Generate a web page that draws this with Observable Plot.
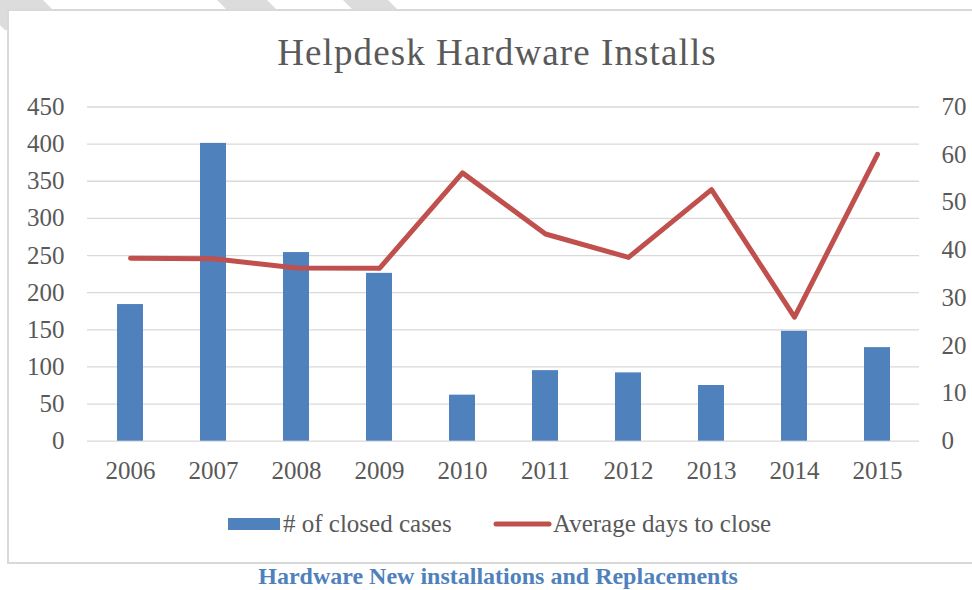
<!DOCTYPE html>
<html>
<head>
<meta charset="utf-8">
<script src="https://cdn.jsdelivr.net/npm/d3@7"></script>
<script src="https://cdn.jsdelivr.net/npm/@observablehq/plot@0.6"></script>
<style>
  html, body { margin: 0; padding: 0; background: #fff; }
  body { width: 972px; height: 590px; position: relative; overflow: hidden; font-family: "Liberation Serif", serif; }
  #deco { position: absolute; left: 0; top: 0; }
  #box { position: absolute; left: 7px; top: 9px; width: 1000px; height: 551px; border: 2px solid #d9d9d9; background: #fff; }
  #chart { position: absolute; left: 0; top: 0; }
  #overlay { position: absolute; left: 0; top: 0; pointer-events: none; }
</style>
</head>
<body>
<svg id="deco" width="972" height="40">
  <polygon points="-25,0 43,0 73,30 5,30" fill="#dcdcdc"/>
  <polygon points="217,0 267,0 297,30 247,30" fill="#dcdcdc"/>
  <polygon points="343,0 388,0 418,30 373,30" fill="#dcdcdc"/>
</svg>
<div id="box"></div>
<div id="chart"></div>
<svg id="overlay" width="972" height="590"></svg>
<script>
const years = ["2006","2007","2008","2009","2010","2011","2012","2013","2014","2015"];
const closedCases = [184, 401, 254, 226, 62, 95, 92, 75, 148, 126];
const avgDaysToClose = [38.3, 38.2, 36.3, 36.2, 56.2, 43.4, 38.5, 52.7, 26.0, 60.1];
const leftTicks = [0, 50, 100, 150, 200, 250, 300, 350, 400, 450];
const rightTicks = [0, 10, 20, 30, 40, 50, 60, 70];
const titleText = "Helpdesk Hardware Installs";
const seriesNames = ["# of closed cases", "Average days to close"];
const captionText = "Hardware New installations and Replacements";

const k = 450 / 70;
const data = years.map((y, i) => ({year: y, cases: closedCases[i], days: avgDaysToClose[i]}));

const chart = Plot.plot({
  width: 972,
  height: 500,
  marginTop: 106.5,
  marginBottom: 59.3,
  marginLeft: 87,
  marginRight: 53,
  style: {fontFamily: "Liberation Serif", fontSize: "25px", color: "#595959", background: "none", overflow: "visible"},
  x: {domain: years, paddingInner: 0.6875, paddingOuter: 0.34375, label: null},
  y: {domain: [0, 450], label: null},
  marks: [
    Plot.ruleY(leftTicks, {stroke: "#d9d9d9", strokeWidth: 1.3}),
    Plot.barY(data, {x: "year", y: "cases", fill: "#4F81BD"}),
    Plot.line(data, {x: "year", y: d => d.days * k, stroke: "#C0504D", strokeWidth: 5, strokeLinecap: "round", strokeLinejoin: "round"}),
    Plot.axisY(leftTicks, {anchor: "left", tickSize: 0, tickPadding: 23, fontSize: 25, fill: "#595959", label: null}),
    Plot.axisY(rightTicks.map(v => v * k), {anchor: "right", tickSize: 0, tickPadding: 22, fontSize: 25, fill: "#595959", tickFormat: v => String(Math.round(v / k)), label: null}),
    Plot.axisX({tickSize: 0, tickPadding: 20, fontSize: 25, fill: "#595959", label: null})
  ]
});
document.getElementById("chart").appendChild(chart);

// Title, legend, caption
const ov = d3.select("#overlay");
ov.append("text").attr("x", 497).attr("y", 65).attr("text-anchor", "middle")
  .attr("font-family", "Liberation Serif").attr("font-size", 37).attr("letter-spacing", 1.1)
  .attr("fill", "#595959").text(titleText);

const lg = ov.append("g").attr("font-family", "Liberation Serif").attr("font-size", 25).attr("fill", "#595959");
lg.append("rect").attr("x", 228).attr("y", 518).attr("width", 52).attr("height", 12).attr("fill", "#4F81BD");
lg.append("text").attr("x", 283).attr("y", 532).text(seriesNames[0]);
lg.append("line").attr("x1", 496).attr("x2", 549).attr("y1", 524).attr("y2", 524)
  .attr("stroke", "#C0504D").attr("stroke-width", 5).attr("stroke-linecap", "round");
lg.append("text").attr("x", 553).attr("y", 532).text(seriesNames[1]);

ov.append("text").attr("x", 498).attr("y", 584).attr("text-anchor", "middle")
  .attr("font-family", "Liberation Serif").attr("font-size", 24).attr("font-weight", "bold")
  .attr("fill", "#4F81BD").text(captionText);
</script>
</body>
</html>
